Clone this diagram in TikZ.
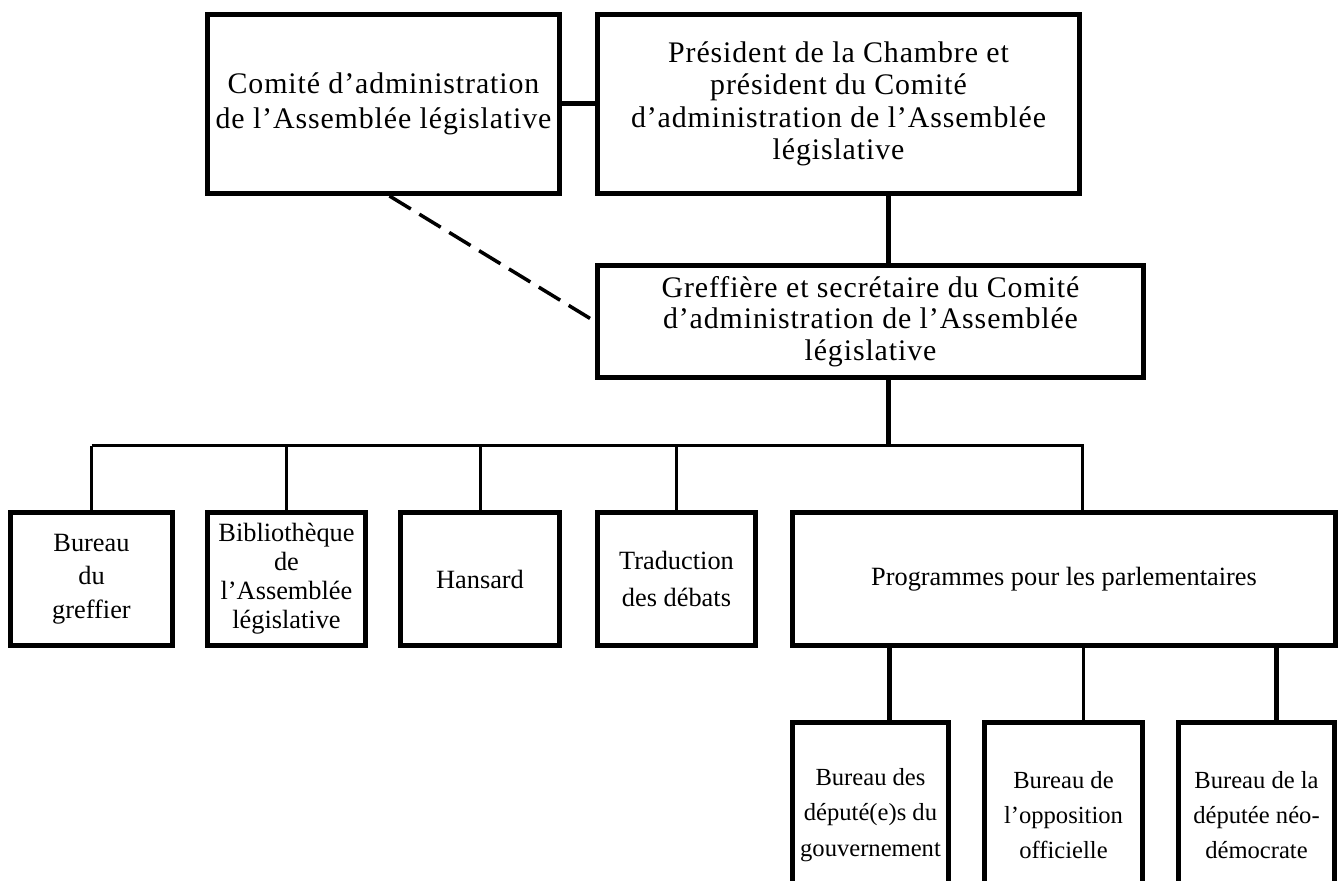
\documentclass[tikz,border=0pt]{standalone}
\usepackage{fontspec}
\setmainfont{Liberation Serif}
\newfontfamily\spacedfont[LetterSpace=3]{Liberation Serif}
\tikzset{
  box/.style={draw, line width=0.1cm, align=center, inner sep=0pt,
    font=\fontsize{15}{19}\selectfont},
  topbox/.style={box, font=\spacedfont\fontsize{17}{18.5}\selectfont},
  thickline/.style={line width=0.1cm},
  thinline/.style={line width=0.06cm},
  dashline/.style={line width=0.07cm, dash pattern=on 0.5cm off 0.2cm},
}
\begin{document}
\begin{tikzpicture}[x=0.02cm,y=-0.02cm]
  \useasboundingbox (0,0) rectangle (1340,881);
  \clip (0,0) rectangle (1340,881);
  % top row
  \node[topbox, minimum width=7.04cm, minimum height=3.58cm, font=\spacedfont\fontsize{17}{20}\selectfont] (comite) at (383.5,104)
    {Comité d’administration\\de l’Assemblée législative};
  \node[topbox, minimum width=9.64cm, minimum height=3.58cm] (president) at (838.5,104)
    {Président de la Chambre et\\président du Comité\\d’administration de l’Assemblée\\législative};
  \node[topbox, minimum width=10.92cm, minimum height=2.24cm, font=\spacedfont\fontsize{17}{18}\selectfont] (greffiere) at (870.5,321.5)
    {Greffière et secrétaire du Comité\\d’administration de l’Assemblée\\législative};
  % services
  \def\rowy{579}
  \node[box, minimum width=3.24cm, minimum height=2.66cm] (bureau) at (91.5,\rowy) {Bureau\\du\\greffier};
  \node[box, minimum width=3.16cm, minimum height=2.66cm, font=\fontsize{15}{16.5}\selectfont] (biblio) at (286.5,\rowy)
    {Bibliothèque\\de\\l’Assemblée\\législative};
  \node[box, minimum width=3.18cm, minimum height=2.66cm] (hansard) at (480,\rowy) {Hansard};
  \node[box, minimum width=3.16cm, minimum height=2.66cm, font=\fontsize{15}{21}\selectfont] (traduction) at (676.5,\rowy)
    {Traduction\\des débats};
  \node[box, minimum width=10.86cm, minimum height=2.66cm] (programmes) at (1064,\rowy)
    {Programmes pour les parlementaires};
  % offices (cut off at the bottom)
  \def\offy{815}
  \node[box, minimum width=3.12cm, minimum height=3.7cm, font=\fontsize{14}{20}\selectfont] (deputes) at (870.5,\offy)
    {Bureau des\\député(e)s du\\gouvernement};
  \node[box, minimum width=3.16cm, minimum height=3.7cm, font=\fontsize{14}{20}\selectfont] (opposition) at (1063.5,\offy)
    {Bureau de\\l’opposition\\officielle};
  \node[box, minimum width=3.12cm, minimum height=3.7cm, font=\fontsize{14}{20}\selectfont] (npd) at (1256.5,\offy)
    {Bureau de la\\députée néo-\\démocrate};
  % links
  \coordinate (gx) at (888,0);
  \coordinate (bar) at (0,446);
  \coordinate (px) at (1082,0);
  \draw[thickline] (comite.east) -- (president.west);
  \draw[thickline] (president.south -| gx) -- (greffiere.north -| gx);
  \draw[dashline] ([xshift=0.12cm]comite.south) -- (greffiere.west);
  \draw[thickline] (greffiere.south -| gx) -- (bar -| gx);
  \draw[thinline] (bureau.north |- bar) -- (bar -| px) -- (programmes.north -| px);
  \foreach \n in {bureau,biblio,hansard,traduction}
    \draw[thinline] (\n.north) -- (\n.north |- bar);
  \coordinate (o1) at (889,0);
  \coordinate (o2) at (1083,0);
  \coordinate (o3) at (1276,0);
  \foreach \c/\n in {o1/deputes,o3/npd}
    \draw[thickline] (programmes.south -| \c) -- (\n.north -| \c);
  \draw[thinline] (programmes.south -| o2) -- (opposition.north -| o2);
\end{tikzpicture}
\end{document}
